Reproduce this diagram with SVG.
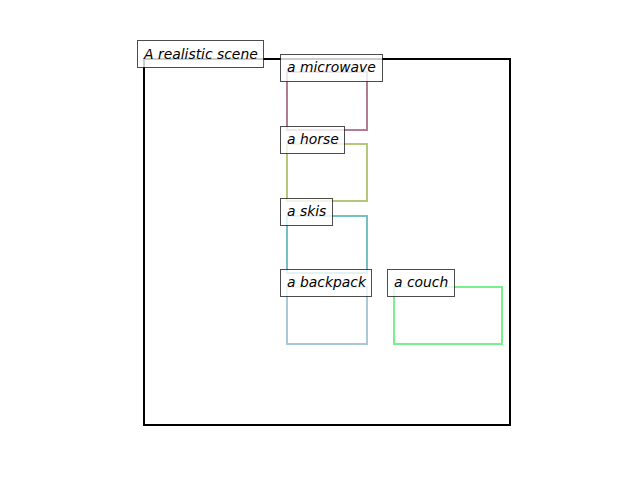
<svg xmlns="http://www.w3.org/2000/svg" width="640" height="480" viewBox="0 0 640 480">
<style>
.box{fill:none;stroke-width:2;stroke-linejoin:miter}
.lbl rect{fill:#fff;fill-opacity:0.8;stroke:#000;stroke-opacity:0.7;stroke-width:1}
.lbl text{font-family:"DejaVu Sans",sans-serif;font-style:oblique;font-size:13.9px;fill:#000}
</style>
<rect width="640" height="480" fill="#fff"/>
<g id="scene-frame"><rect class="box" x="144" y="59" width="366" height="366" stroke="#000"/></g>
<g id="connectors"></g>
<g id="microwave"><rect class="box" x="287" y="72" width="80" height="58" stroke="#b07d95"/></g>
<g id="horse"><rect class="box" x="287" y="144" width="80" height="57" stroke="#b4c878"/></g>
<g id="skis"><rect class="box" x="287" y="216" width="80" height="57" stroke="#72c0c8"/></g>
<g id="backpack"><rect class="box" x="287" y="287" width="80" height="57" stroke="#a8c8d8"/></g>
<g id="couch"><rect class="box" x="394" y="287" width="108" height="57" stroke="#78f08c"/></g>
<g id="label-scene" class="lbl"><rect x="137.5" y="40.5" width="126" height="27"/><text x="144" y="59">A realistic scene</text></g>
<g id="label-microwave" class="lbl"><rect x="280.5" y="54.5" width="102" height="27"/><text x="287" y="72">a microwave</text></g>
<g id="label-horse" class="lbl"><rect x="280.5" y="126.5" width="64" height="27"/><text x="287" y="144">a horse</text></g>
<g id="label-skis" class="lbl"><rect x="280.5" y="198.5" width="52" height="27"/><text x="287" y="216">a skis</text></g>
<g id="label-backpack" class="lbl"><rect x="280.5" y="269.5" width="91" height="27"/><text x="287" y="287">a backpack</text></g>
<g id="label-couch" class="lbl"><rect x="387.5" y="269.5" width="67" height="27"/><text x="394" y="287">a couch</text></g>
</svg>
